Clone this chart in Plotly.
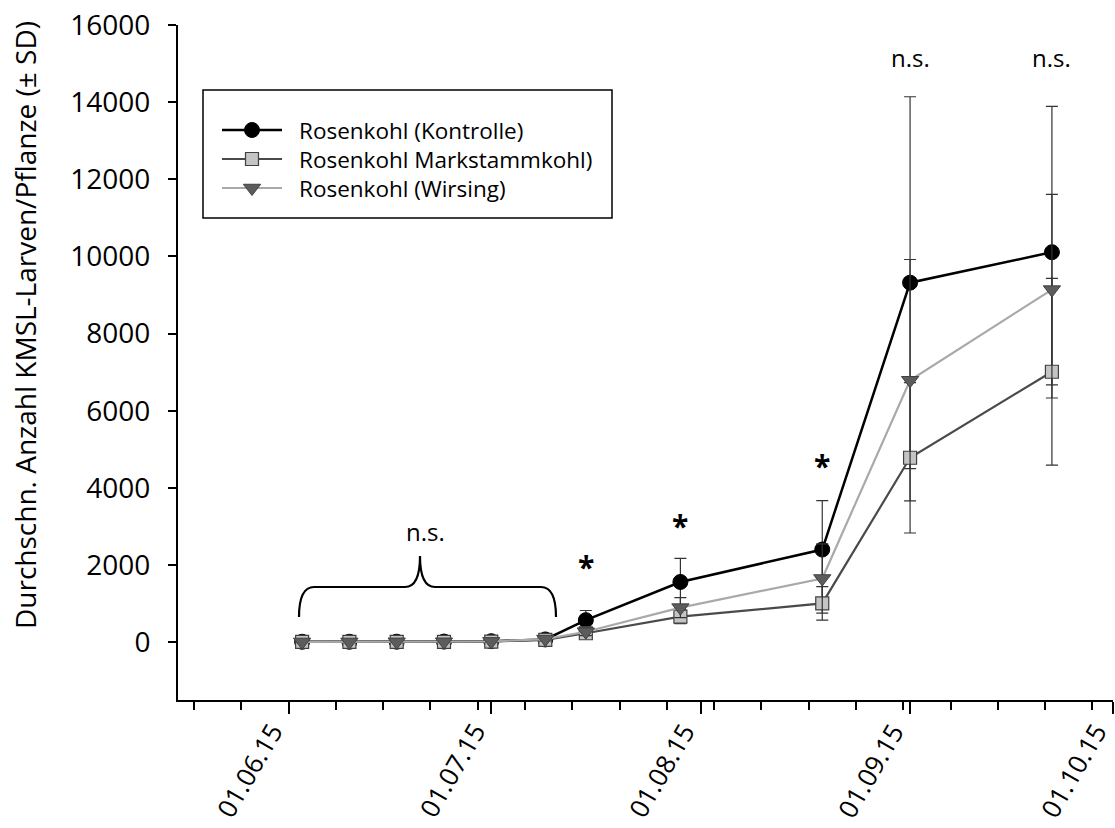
import plotly.graph_objects as go

# Sampling dates (Rosenkohl, 2015)
dates = ["2015-06-03", "2015-06-10", "2015-06-17", "2015-06-24", "2015-07-01",
         "2015-07-09", "2015-07-15", "2015-07-29", "2015-08-19", "2015-09-01",
         "2015-09-22"]

# Mean larvae per plant and standard deviation
kontrolle = [10, 10, 12, 15, 25, 70, 570, 1560, 2400, 9320, 10110]
kontrolle_sd = [20, 20, 25, 30, 40, 60, 250, 610, 1270, 4820, 3780]
markstamm = [5, 5, 6, 8, 15, 60, 230, 660, 1005, 4780, 7010]
markstamm_sd = [8, 8, 10, 12, 20, 40, 80, 180, 435, 1950, 2420]
wirsing = [5, 6, 8, 10, 20, 80, 270, 895, 1650, 6790, 9140]
wirsing_sd = [8, 10, 12, 15, 25, 50, 100, 260, 900, 3130, 2470]

series_names = ["Rosenkohl (Kontrolle)", "Rosenkohl Markstammkohl)", "Rosenkohl (Wirsing)"]
y_title = "Durchschn. Anzahl KMSL-Larven/Pflanze (± SD)"

# Month ticks on the date axis and their labels
month_ticks = ["2015-06-01", "2015-07-01", "2015-08-01", "2015-09-01", "2015-10-01"]
month_labels = ["01.06.15", "01.07.15", "01.08.15", "01.09.15", "01.10.15"]

# Significance labels
sig_dates = ["2015-07-15", "2015-07-29", "2015-08-19"]
sig_values = [2070, 3130, 4680]
ns_dates = ["2015-09-01", "2015-09-22"]
ns_value = 15160

FONT = "Open Sans"
W, H = 1115, 828
ML, MR, MT, MB = 178, 2, 25, 128
PW, PH = W - ML - MR, H - MT - MB

styles = [
    dict(line=dict(color="#000000", width=2.5),
         marker=dict(symbol="circle", size=15, color="#000000",
                     line=dict(color="#000000", width=1))),
    dict(line=dict(color="#4a4a4a", width=2.2),
         marker=dict(symbol="square", size=13, color="#c4c4c4",
                     line=dict(color="#404040", width=1.2))),
    dict(line=dict(color="#a9a9a9", width=2.2),
         marker=dict(symbol="triangle-down", size=15, color="#5c5c5c",
                     line=dict(color="#404040", width=1))),
]

fig = go.Figure()
for name, vals, sd, st in zip(series_names,
                              [kontrolle, markstamm, wirsing],
                              [kontrolle_sd, markstamm_sd, wirsing_sd],
                              styles):
    fig.add_trace(go.Scatter(
        x=dates, y=vals, name=name, mode="lines+markers",
        line=st["line"], marker=st["marker"],
        error_y=dict(type="data", array=sd, visible=True,
                     color="#333333", thickness=1.2, width=6),
        showlegend=False, cliponaxis=False,
    ))

# Legend drawn on a pixel overlay (x2/y2 map straight onto plot-area pixels)
leg_left, leg_top, leg_right, leg_bottom = 203, 90, 612, 218
leg_rows = [130, 159, 188]
leg_x0, leg_x1 = 222, 282
for name, st, yrow in zip(series_names, styles, leg_rows):
    fig.add_trace(go.Scatter(
        x=[leg_x0, leg_x1], y=[yrow, yrow], xaxis="x2", yaxis="y2",
        mode="lines", line=st["line"], showlegend=False, hoverinfo="skip",
    ))
    fig.add_trace(go.Scatter(
        x=[(leg_x0 + leg_x1) / 2], y=[yrow], xaxis="x2", yaxis="y2",
        mode="markers", marker=st["marker"], showlegend=False,
        hoverinfo="skip",
    ))

shapes = [
    dict(type="rect", xref="x2", yref="y2", x0=leg_left, x1=leg_right,
         y0=leg_top, y1=leg_bottom, line=dict(color="#000000", width=1.5),
         fillcolor="rgba(255,255,255,0)"),
    # curly bracket over the early, non-significant dates
    dict(type="path", xref="x2", yref="y2",
         path="M 299,617 Q 299,587 314,587 L 405,587 Q 420,587 420,556 "
              "Q 420,587 435,587 L 541,587 Q 556,587 556,617",
         line=dict(color="#000000", width=2.2)),
]

annotations = [
    dict(x=297, y=leg_row, xref="x2", yref="y2", text=name, showarrow=False,
         xanchor="left", yanchor="middle",
         font=dict(family=FONT, size=22.5, color="#000000"))
    for name, leg_row in zip(series_names, leg_rows)
]
annotations.append(dict(x=425, y=531, xref="x2", yref="y2", text="n.s.",
                        showarrow=False, xanchor="center", yanchor="middle",
                        font=dict(family=FONT, size=24, color="#000000")))
for d in ns_dates:
    annotations.append(dict(x=d, y=ns_value, xref="x", yref="y", text="n.s.",
                            showarrow=False, xanchor="center", yanchor="middle",
                            font=dict(family=FONT, size=24, color="#000000")))
for d, v in zip(sig_dates, sig_values):
    annotations.append(dict(x=d, y=v, xref="x", yref="y", text="<b>*</b>",
                            showarrow=False, xanchor="center", yanchor="middle",
                            yshift=-4,
                            font=dict(family=FONT, size=30, color="#000000")))
# y-axis title, placed as rotated text to the left of the tick labels
annotations.append(dict(x=(25 - ML) / PW, y=(H - MB - 325) / PH,
                        xref="paper", yref="paper", text=y_title,
                        textangle=-90, showarrow=False,
                        xanchor="center", yanchor="middle",
                        font=dict(family=FONT, size=28, color="#000000")))
# rotated month labels, ending just below-left of each month tick
for d, lab in zip(month_ticks, month_labels):
    annotations.append(dict(x=d, y=-14 / PH, xref="x", yref="paper", text=lab,
                            textangle=-60, showarrow=False,
                            xanchor="right", yanchor="top", xshift=5,
                            font=dict(family=FONT, size=26, color="#000000")))

fig.update_layout(
    width=W, height=H,
    margin=dict(l=ML, r=MR, t=MT, b=MB, autoexpand=False),
    paper_bgcolor="#ffffff", plot_bgcolor="#ffffff",
    font=dict(family=FONT, color="#000000"),
    showlegend=False,
    shapes=shapes, annotations=annotations,
    xaxis=dict(
        type="date", range=["2015-05-15 15:00", "2015-10-01 01:00"],
        automargin=False, showticklabels=False,
        showline=True, linecolor="#000000", linewidth=2,
        showgrid=False, zeroline=False,
        ticks="outside", ticklen=12, tickwidth=1.5, tickcolor="#000000",
        tickmode="array", tickvals=month_ticks,
        minor=dict(ticks="outside", ticklen=8, tickwidth=1.5,
                   tickcolor="#000000", dtick=7 * 86400000,
                   tick0="2015-05-18", showgrid=False),
    ),
    yaxis=dict(
        range=[-1500, 16000], tick0=0, dtick=2000, tickformat="d",
        automargin=False,
        showline=True, linecolor="#000000", linewidth=2,
        showgrid=False, zeroline=False,
        ticks="outside", ticklen=8, tickwidth=1.5, tickcolor="#000000",
        tickfont=dict(family=FONT, size=28, color="#000000"),
        ticklabelstandoff=12,
    ),
    xaxis2=dict(overlaying="x", range=[ML, W - MR], visible=False),
    yaxis2=dict(overlaying="y", range=[H - MB, MT], visible=False),
)

fig.write_html("out.html")
